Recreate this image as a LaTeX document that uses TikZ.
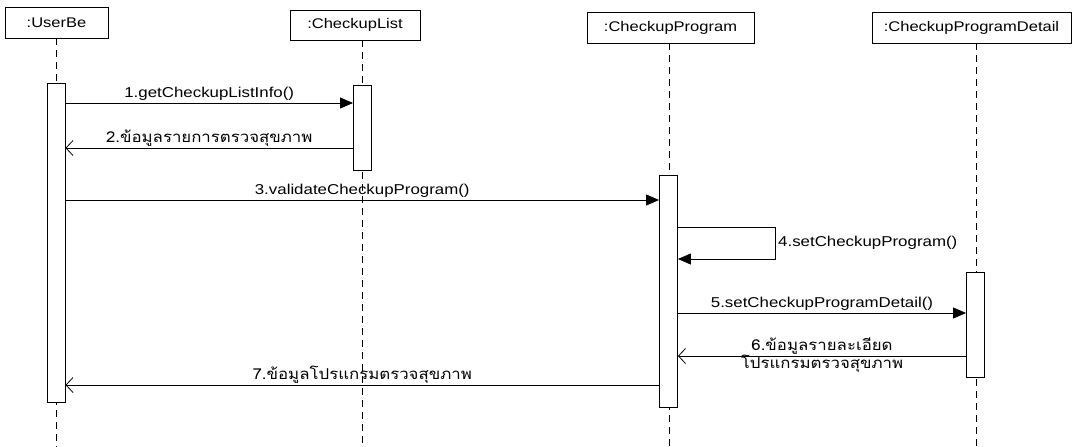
\documentclass[tikz,border=0pt]{standalone}
\usepackage{fontspec}
\setmainfont[FakeStretch=1.18]{Liberation Sans}
\newfontfamily\thai[Script=Thai,FakeStretch=1.12]{Loma}
\usetikzlibrary{arrows.meta}
\begin{document}
\begin{tikzpicture}[x=1pt,y=-1pt,
  objbox/.style={draw,line width=0.9pt,fill=white,inner sep=0pt,font=\fontsize{14}{16}\selectfont},
  act/.style={draw,line width=0.9pt,fill=white,minimum width=18pt,inner sep=0pt,anchor=north},
  life/.style={dashed,dash pattern=on 7pt off 5pt,line width=0.9pt},
  call/.style={line width=0.8pt,-{Triangle[length=13pt,width=11pt]}},
  ret/.style={line width=0.8pt,-{Straight Barb[length=7pt,width=15pt,line width=0.8pt]}},
  lbl/.style={font=\fontsize{14.3}{16}\selectfont,inner sep=1pt},
  tlbl/.style={font=\thai\fontsize{15}{18}\selectfont,inner sep=1pt}]
\useasboundingbox (0,0) rectangle (1072,447);
% object boxes
\node[objbox,minimum width=103pt,minimum height=31pt] (o1) at (56.5,22.5) {:UserBe};
\node[objbox,minimum width=130pt,minimum height=30pt] (o2) at (355,25) {:CheckupList};
\node[objbox,minimum width=167pt,minimum height=31pt] (o3) at (670.5,27.5) {:CheckupProgram};
\node[objbox,minimum width=199pt,minimum height=31pt] (o4) at (971.5,27.5) {:CheckupProgramDetail};
% lifeline x positions
\coordinate (l1) at (56,0);
\coordinate (l2) at (362,0);
\coordinate (l3) at (669,0);
\coordinate (l4) at (976,0);
\coordinate (bot) at (0,447);
\draw[life] (l1 |- o1.south) -- (l1 |- bot);
\draw[life] (l2 |- o2.south) -- (l2 |- bot);
\draw[life] (l3 |- o3.south) -- (l3 |- bot);
\draw[life] (l4 |- o4.south) -- (l4 |- bot);
% activations
\node[act,minimum height=319pt] (a1) at (56,83) {};
\node[act,minimum height=85pt] (a2) at (362.5,85) {};
\node[act,minimum height=232pt] (a3) at (668.5,175) {};
\node[act,minimum height=105pt] (a4) at (975.5,272) {};
% message levels
\coordinate (y1) at (0,103);
\coordinate (y2) at (0,148);
\coordinate (y3) at (0,200);
\coordinate (y4a) at (0,227);
\coordinate (y4b) at (0,259);
\coordinate (y5) at (0,313);
\coordinate (y6) at (0,356);
\coordinate (y7) at (0,385);
% messages
\draw[call] (a1.east |- y1) -- node[lbl,above=1pt,pos=0.5] (m1) {1.getCheckupListInfo()} (a2.west |- y1);
\draw[ret] (a2.west |- y2) -- node[tlbl,above=0pt,pos=0.5] (m2) {2.ข้อมูลรายการตรวจสุขภาพ} (a1.east |- y2);
\draw[call] (a1.east |- y3) -- node[lbl,above=1pt,pos=0.5] (m3) {3.validateCheckupProgram()} (a3.west |- y3);
\coordinate (sx) at (775,0);
\draw[call] (a3.east |- y4a) -- (sx |- y4a) -- (sx |- y4b) -- (a3.east |- y4b);
\node[lbl,anchor=west] (m4) at (777,243) {4.setCheckupProgram()};
\draw[call] (a3.east |- y5) -- node[lbl,above=1pt,pos=0.5] (m5) {5.setCheckupProgramDetail()} (a4.west |- y5);
\draw[ret] (a4.west |- y6) -- (a3.east |- y6);
\node[tlbl,align=center] (m6) at (822,355) {6.ข้อมูลรายละเอียด\\โปรแกรมตรวจสุขภาพ};
\draw[ret] (a3.west |- y7) -- node[tlbl,above=0pt,pos=0.5] (m7) {7.ข้อมูลโปรแกรมตรวจสุขภาพ} (a1.east |- y7);
\end{tikzpicture}
\end{document}
